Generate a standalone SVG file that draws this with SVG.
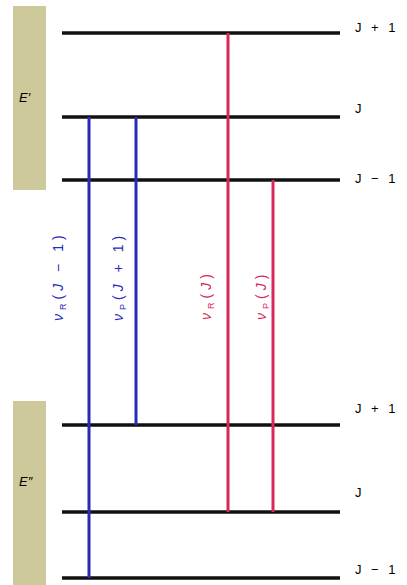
<svg xmlns="http://www.w3.org/2000/svg" width="407" height="585" viewBox="0 0 407 585">
<style>
.box{fill:#cdc99a}
.lvl{stroke:#111;stroke-width:3.5}
.blue{stroke:#2a2ab8;stroke-width:3}
.red{stroke:#d8285a;stroke-width:3}
text{font-family:"Liberation Sans",Arial,sans-serif;font-size:13px}
.rl{letter-spacing:3px}
.lab{font-style:italic}
.tl{letter-spacing:4px;font-size:14px}
.bt{fill:#2a2ab8}
.rt{fill:#d8285a}
</style>
<rect width="407" height="585" fill="#fff"/>
<g id="upper-state">
<rect class="box" x="13" y="6" width="33" height="184"/>
<text x="19" y="102" class="lab" font-size="18">E′</text>
</g>
<g id="lower-state">
<rect class="box" x="13" y="401" width="33" height="184"/>
<text x="19" y="486" class="lab" font-size="18">E″</text>
</g>
<g id="levels">
<g id="u-J+1"><line class="lvl" x1="62" y1="33" x2="340" y2="33"/><text class="rl" x="355" y="32">J + 1</text></g>
<g id="u-J"><line class="lvl" x1="62" y1="117" x2="340" y2="117"/><text class="rl" x="355" y="113">J</text></g>
<g id="u-J-1"><line class="lvl" x1="62" y1="180" x2="340" y2="180"/><text class="rl" x="355" y="183">J − 1</text></g>
<g id="l-J+1"><line class="lvl" x1="62" y1="425" x2="340" y2="425"/><text class="rl" x="355" y="413">J + 1</text></g>
<g id="l-J"><line class="lvl" x1="62" y1="512" x2="340" y2="512"/><text class="rl" x="355" y="497">J</text></g>
<g id="l-J-1"><line class="lvl" x1="62" y1="578" x2="340" y2="578"/><text class="rl" x="355" y="574">J − 1</text></g>
</g>
<g id="connectors">
<line class="blue" x1="89" y1="117" x2="89" y2="578"/>
<line class="blue" x1="136" y1="117" x2="136" y2="425"/>
<line class="red" x1="228" y1="33" x2="228" y2="512"/>
<line class="red" x1="273" y1="180" x2="273" y2="512"/>
</g>
<g id="labels">
<text class="bt tl" transform="translate(63,321) rotate(-90)"><tspan class="lab">ν</tspan><tspan font-size="9" dy="3">R</tspan><tspan dy="-3">(</tspan><tspan class="lab">J</tspan> − 1)</text>
<text class="bt tl" transform="translate(123,321) rotate(-90)"><tspan class="lab">ν</tspan><tspan font-size="9" dy="3">P</tspan><tspan dy="-3">(</tspan><tspan class="lab">J</tspan> + 1)</text>
<text class="rt tl" transform="translate(211,320) rotate(-90)"><tspan class="lab">ν</tspan><tspan font-size="9" dy="3">R</tspan><tspan dy="-3">(</tspan><tspan class="lab">J</tspan>)</text>
<text class="rt tl" transform="translate(266,320) rotate(-90)"><tspan class="lab">ν</tspan><tspan font-size="9" dy="3">P</tspan><tspan dy="-3">(</tspan><tspan class="lab">J</tspan>)</text>
</g>
</svg>
